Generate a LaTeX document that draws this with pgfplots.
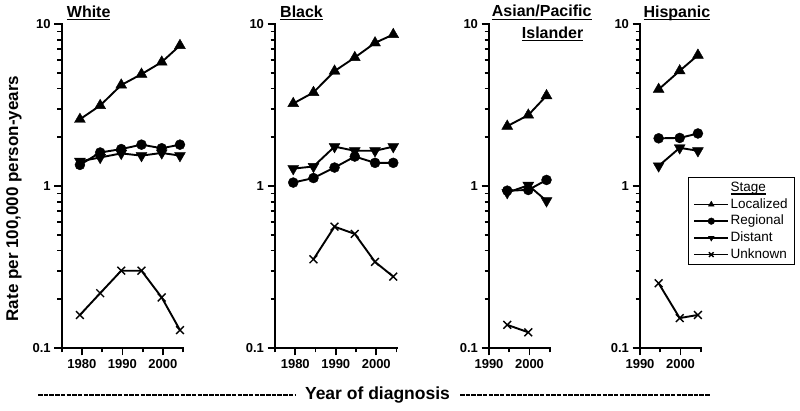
\documentclass[border=0pt]{standalone}
\usepackage{pgfplots}
\pgfplotsset{compat=1.18}
\usepackage{fontspec}
\setmainfont{Liberation Sans}
\newcommand\ul[1]{\setbox0\hbox{#1}\rlap{\rule[-3.2pt]{\wd0}{1.6pt}}\box0}
\newcommand\axlines{\draw[line width=2.2pt, black, line cap=rect] (rel axis cs:0,1) -- (rel axis cs:0,0) -- (rel axis cs:1,0);}
\pgfplotsset{
  sLoc/.style={black, line width=1.9pt, mark=triangle*, mark size=6.3pt, mark options={line width=0.4pt}},
  sReg/.style={black, line width=1.9pt, mark=*, mark size=5pt, mark options={line width=0.4pt}},
  sDis/.style={black, line width=1.9pt, mark=triangle*, mark size=6.3pt, mark options={line width=0.4pt, rotate=180}},
  sUnk/.style={black, line width=1.9pt, mark=x, mark size=5.5pt, mark options={line width=1.4pt}},
}
\begin{document}
\begin{tikzpicture}[x=1pt,y=1pt]
\useasboundingbox (0,0) rectangle (800,410);
% White
\begin{axis}[at={(61.7pt,62pt)}, anchor=south west, scale only axis, width=121.5pt, height=324pt,
    ymode=log, ymin=0.1, ymax=10, xmin=1975, xmax=2005,
    axis x line*=bottom, axis y line*=left, axis line style={line width=2.2pt,-},
    ytick={0.1,1,10}, yticklabels={0.1,1,10},
    minor ytick={0.2,0.3,0.4,0.5,0.6,0.7,0.8,0.9,2,3,4,5,6,7,8,9},
    xtick={1980,1990,2000}, xticklabels={1980,1990,2000}, minor xtick={1975,1985,1995,2005},
    tick align=outside, major tick length=7.5pt, minor tick length=4.5pt,
    tick style={black,line width=1.8pt},
    tick label style={font=\bfseries\fontsize{13}{15}\selectfont}, clip=false]
\addplot[sLoc] coordinates {(1979.5,2.58)(1984.5,3.14)(1989.7,4.2)(1994.7,4.9)(1999.7,5.82)(2004.2,7.37)};
\addplot[sReg] coordinates {(1979.5,1.35)(1984.5,1.61)(1989.7,1.69)(1994.7,1.80)(1999.7,1.71)(2004.2,1.80)};
\addplot[sDis] coordinates {(1979.5,1.42)(1984.5,1.50)(1989.7,1.59)(1994.7,1.54)(1999.7,1.60)(2004.2,1.54)};
\addplot[sUnk] coordinates {(1979.5,0.160)(1984.5,0.218)(1989.7,0.30)(1994.7,0.30)(1999.7,0.205)(2004.2,0.129)};
\axlines
\end{axis}
% Black
\begin{axis}[at={(275pt,62pt)}, anchor=south west, scale only axis, width=121.5pt, height=324pt,
    ymode=log, ymin=0.1, ymax=10, xmin=1975, xmax=2005,
    axis x line*=bottom, axis y line*=left, axis line style={line width=2.2pt,-},
    ytick={0.1,1,10}, yticklabels={0.1,1,10},
    minor ytick={0.2,0.3,0.4,0.5,0.6,0.7,0.8,0.9,2,3,4,5,6,7,8,9},
    xtick={1980,1990,2000}, xticklabels={1980,1990,2000}, minor xtick={1975,1985,1995,2005},
    tick align=outside, major tick length=7.5pt, minor tick length=4.5pt,
    tick style={black,line width=1.8pt},
    tick label style={font=\bfseries\fontsize{13}{15}\selectfont}, clip=false]
\addplot[sLoc] coordinates {(1979.5,3.23)(1984.5,3.78)(1989.7,5.12)(1994.7,6.21)(1999.7,7.65)(2004.2,8.61)};
\addplot[sReg] coordinates {(1979.5,1.05)(1984.5,1.12)(1989.7,1.30)(1994.7,1.52)(1999.7,1.39)(2004.2,1.39)};
\addplot[sDis] coordinates {(1979.5,1.28)(1984.5,1.32)(1989.7,1.75)(1994.7,1.65)(1999.7,1.65)(2004.2,1.75)};
\addplot[sUnk] coordinates {(1984.5,0.353)(1989.7,0.561)(1994.7,0.506)(1999.7,0.340)(2004.2,0.276)};
\axlines
\end{axis}
% Asian/Pacific Islander
\begin{axis}[at={(489pt,62pt)}, anchor=south west, scale only axis, width=60.75pt, height=324pt,
    ymode=log, ymin=0.1, ymax=10, xmin=1990, xmax=2005,
    axis x line*=bottom, axis y line*=left, axis line style={line width=2.2pt,-},
    ytick={0.1,1,10}, yticklabels={0.1,1,10},
    minor ytick={0.2,0.3,0.4,0.5,0.6,0.7,0.8,0.9,2,3,4,5,6,7,8,9},
    xtick={1990,2000}, xticklabels={1990,2000}, minor xtick={1995,2005},
    tick align=outside, major tick length=7.5pt, minor tick length=4.5pt,
    tick style={black,line width=1.8pt},
    tick label style={font=\bfseries\fontsize{13}{15}\selectfont}, clip=false]
\addplot[sLoc] coordinates {(1994.5,2.34)(1999.7,2.74)(2004.2,3.61)};
\addplot[sReg] coordinates {(1994.5,0.936)(1999.7,0.945)(2004.2,1.09)};
\addplot[sDis] coordinates {(1994.5,0.91)(1999.7,1.01)(2004.2,0.81)};
\addplot[sUnk] coordinates {(1994.5,0.139)(1999.7,0.125)};
\axlines
\end{axis}
% Hispanic
\begin{axis}[at={(640pt,62pt)}, anchor=south west, scale only axis, width=60.75pt, height=324pt,
    ymode=log, ymin=0.1, ymax=10, xmin=1990, xmax=2005,
    axis x line*=bottom, axis y line*=left, axis line style={line width=2.2pt,-},
    ytick={0.1,1,10}, yticklabels={0.1,1,10},
    minor ytick={0.2,0.3,0.4,0.5,0.6,0.7,0.8,0.9,2,3,4,5,6,7,8,9},
    xtick={1990,2000}, xticklabels={1990,2000}, minor xtick={1995,2005},
    tick align=outside, major tick length=7.5pt, minor tick length=4.5pt,
    tick style={black,line width=1.8pt},
    tick label style={font=\bfseries\fontsize{13}{15}\selectfont}, clip=false,
  legend style={at={(0.79,0.528)}, anchor=north west, draw=black, line width=1pt,
    font=\fontsize{13.5}{16}\selectfont, inner xsep=5pt, inner ysep=2pt,
    nodes={text height=10.5pt, text depth=3.4pt, inner ysep=1.4pt, inner xsep=1.5pt}},
  legend cell align=left,
  legend image code/.code={\draw[#1, line width=1.6pt, mark size=3.3pt, mark repeat=2, mark phase=2] plot coordinates {(0pt,0pt)(17pt,0pt)(34pt,0pt)};}]
\addlegendimage{empty legend}
\addlegendentry{\ul{Stage}}
\addplot[sLoc] coordinates {(1994.6,3.95)(1999.8,5.14)(2004.3,6.42)};
\addlegendentry{Localized}
\addplot[sReg] coordinates {(1994.6,1.97)(1999.8,1.98)(2004.3,2.11)};
\addlegendentry{Regional}
\addplot[sDis] coordinates {(1994.6,1.33)(1999.8,1.72)(2004.3,1.65)};
\addlegendentry{Distant}
\addplot[sUnk] coordinates {(1994.6,0.251)(1999.8,0.153)(2004.3,0.160)};
\addlegendentry{Unknown}
\axlines
\end{axis}
% titles
\begin{scope}[every node/.style={inner sep=0pt, anchor=base west, font=\bfseries\fontsize{16}{19}\selectfont}]
\node at (66.7,392.7) {\ul{White}};
\node at (280,392.7) {\ul{Black}};
\node at (491.7,393) {\ul{Asian/Pacific}};
\node at (521.7,371.7) {\ul{Islander}};
\node at (643.3,392.7) {\ul{Hispanic}};
\end{scope}
\node[rotate=90, font=\bfseries\fontsize{17}{20}\selectfont, inner sep=0pt] at (14,211.5) {Rate per 100,000 person-years};
\node[anchor=base, font=\bfseries\fontsize{17.5}{20}\selectfont, inner sep=0pt] at (377.5,11) {Year of diagnosis};
\draw[line width=2pt, dash pattern=on 4.5pt off 1.2pt] (38,15) -- (295,15);
\draw[line width=2pt, dash pattern=on 4.5pt off 1.2pt] (460,15) -- (710,15);
\end{tikzpicture}
\end{document}
